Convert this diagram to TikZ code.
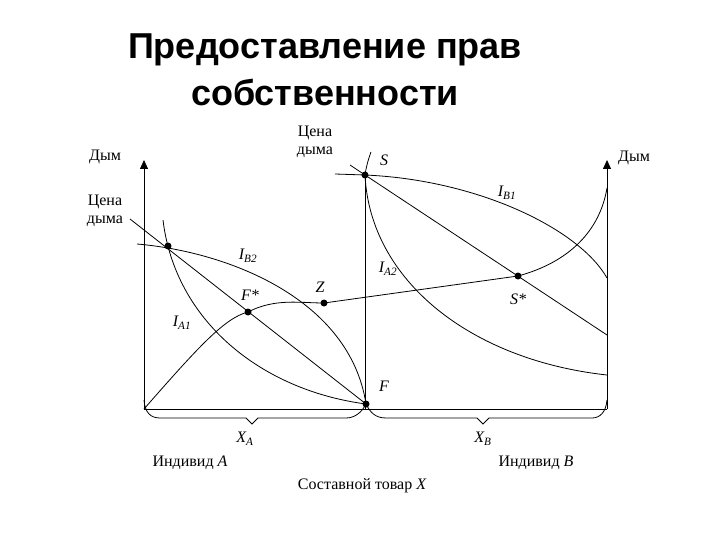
\documentclass[tikz,border=0pt]{standalone}
\usepackage{fontspec}
\setmainfont{Liberation Serif}
\newfontfamily\titlefont{Liberation Sans}
\usetikzlibrary{arrows.meta}
\begin{document}
\begin{tikzpicture}[x=1pt,y=-1pt,line width=0.8pt,
  lab/.style={font=\fontsize{16}{18}\selectfont,inner sep=0pt},
  dot/.style={circle,fill=black,inner sep=0pt,minimum size=7pt},
  ax/.style={-{Triangle[length=9pt,width=8pt]}}]
\useasboundingbox (0,0) rectangle (720,540);
\node[font=\titlefont\bfseries\fontsize{36}{47}\selectfont,align=center] (title) at (325,70) {Предоставление прав\\собственности};
% points
\node[dot] (S) at (365,175) {};
\node[dot] (P) at (168,246) {};
\node[dot] (Fs) at (248,312) {};
\node[dot] (Z) at (324,303) {};
\node[dot] (Ss) at (518,276) {};
\node[dot] (F) at (366,404) {};
\coordinate (L0) at (144,409);
\coordinate (R0) at (607,409);
\coordinate (Ltop) at (144,160);
\coordinate (Rtop) at (607,160);
% axes
\draw[ax] (L0) -- (Ltop);
\draw[ax] (R0) -- (Rtop);
\draw (L0) -- (R0);
\draw (365,172) -- (365,409);
% braces
\draw (144,400) .. controls (145,412) and (150,418) .. (160,418) -- (246,418) -- (252,424) -- (258,418) -- (346,418) .. controls (355,418) and (362,412) .. (F.center);
\draw (F.center) .. controls (370,412) and (375,418) .. (386,418) -- (477,418) -- (483,424) -- (489,418) -- (592,418) .. controls (600,418) and (606,412) .. (607,400);
% lines
\draw (130,219) -- (F.center);
\draw (350,165) -- (S.center) -- (607,335);
% curves
\draw (137,244) .. controls (230,252) and (350,300) .. (F.center);
\draw (163,220) .. controls (175,320) and (260,390) .. (F.center);
\draw (L0) .. controls (200,345) and (225,318) .. (Fs.center) .. controls (275,298) and (300,303) .. (Z.center) -- (Ss.center) .. controls (570,262) and (600,230) .. (607,188);
\draw (335,174) -- (S.center) .. controls (480,180) and (580,230) .. (607,278);
\draw (371,152) .. controls (368,160) and (366,168) .. (S.center) .. controls (370,280) and (470,360) .. (607,375);
% labels
\node[lab,align=center] at (105,157) {Дым};
\node[lab,align=center] at (105,211) {Цена\\дыма};
\node[lab,align=center] at (315,142) {Цена\\дыма};
\node[lab] at (634,158) {Дым};
\node[lab] at (384,160) {\itshape S};
\node[lab] at (507,193) {\itshape I\textsubscript{B1}};
\node[lab] at (248,256) {\itshape I\textsubscript{B2}};
\node[lab] at (388,269) {\itshape I\textsubscript{A2}};
\node[lab] at (320,287) {\itshape Z};
\node[lab] at (250,295) {\itshape F*};
\node[lab] at (182,323) {\itshape I\textsubscript{A1}};
\node[lab] at (518,299) {\itshape S*};
\node[lab] at (384,386) {\itshape F};
\node[lab] at (245,439) {\itshape X\textsubscript{A}};
\node[lab] at (483,439) {\itshape X\textsubscript{B}};
\node[lab] at (190,463) {Индивид \itshape A};
\node[lab] at (536,463) {Индивид \itshape B};
\node[lab] at (362,486) {Составной товар \itshape X};
\end{tikzpicture}
\end{document}
